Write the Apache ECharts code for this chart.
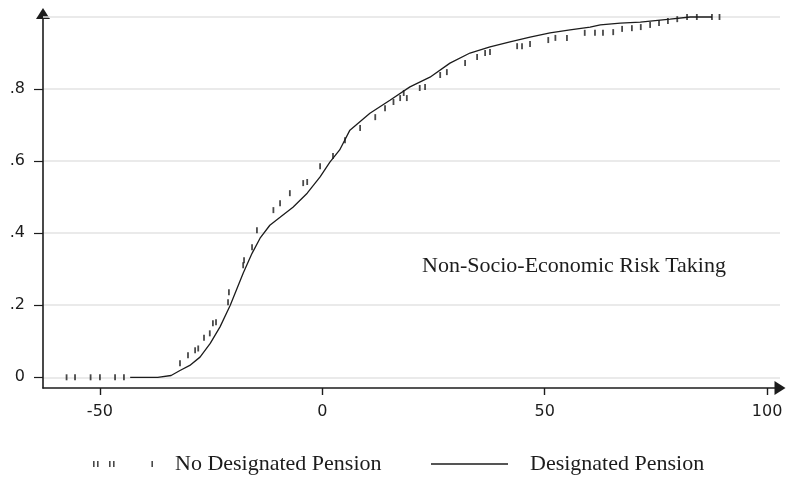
<!DOCTYPE html>
<html>
<head>
<meta charset="utf-8">
<script src="https://cdn.jsdelivr.net/npm/echarts@6/dist/echarts.min.js"></script>
<style>
  html, body { margin: 0; padding: 0; background: #fff; }
  #chart { width: 787px; height: 478px; }
</style>
</head>
<body>
<div id="chart"></div>
<script>
// Empirical CDFs of non-socio-economic risk taking, by pension status
const seriesNames = ['No Designated Pension', 'Designated Pension'];

// No designated pension: observed CDF marks
const noPensionX = [-57.5, -55.6, -52.1, -50, -46.6, -44.6,
  -32, -30.2, -28.6, -27.9, -26.6, -25.3, -24.6, -23.9, -21.2, -21,
  -17.8, -17.6, -15.8, -14.7, -11, -9.5, -7.3, -4.3, -3.4, -0.5, 2.4,
  5.1, 8.5, 11.9, 14.1, 16, 17.5, 18.3, 19, 21.9, 23.1, 26.5, 28, 32.1,
  34.8, 36.6, 37.7, 43.8, 44.9, 46.7, 50.8, 52.4, 55, 59, 61.3, 63.1,
  65.4, 67.4, 69.6, 71.6, 73.7, 75.7, 77.7, 79.8, 82, 84.2, 87.6, 89.3];
const noPensionY = [0, 0, 0, 0, 0, 0,
  0.039, 0.061, 0.075, 0.08, 0.11, 0.122, 0.15, 0.153, 0.208, 0.236,
  0.311, 0.325, 0.361, 0.408, 0.464, 0.483, 0.511, 0.539, 0.542, 0.586, 0.614,
  0.658, 0.692, 0.722, 0.747, 0.764, 0.775, 0.789, 0.775, 0.803, 0.806, 0.839, 0.847, 0.872,
  0.889, 0.9, 0.903, 0.919, 0.919, 0.925, 0.936, 0.942, 0.942, 0.956, 0.956, 0.956,
  0.958, 0.967, 0.969, 0.972, 0.978, 0.983, 0.989, 0.994, 1.0, 1.0, 1.0, 1.0];

// Designated pension: CDF curve
const pensionX = [-43.2, -37, -34, -32, -29.8, -27.5, -25.2, -23, -20.7, -17.8,
  -15.8, -14, -11.8, -9.5, -6.6, -3.4, -0.5, 1.7, 3.9, 6.2, 10.7, 15.2, 19.7,
  24.2, 28.7, 33.2, 37.7, 42.2, 46.7, 51.2, 55.7, 60.2, 62.5, 67, 71.5, 78.2, 82.7, 87.6];
const pensionY = [0, 0, 0.005, 0.019, 0.033, 0.056, 0.094, 0.14, 0.2, 0.289,
  0.344, 0.386, 0.422, 0.444, 0.472, 0.511, 0.556, 0.597, 0.631, 0.686, 0.733, 0.769, 0.806,
  0.833, 0.872, 0.9, 0.917, 0.931, 0.944, 0.956, 0.964, 0.972, 0.978, 0.983, 0.986, 0.994, 1.0, 1.0];

const xTickValues = [-50, 0, 50, 100];
const yTickValues = [0, 0.2, 0.4, 0.6, 0.8];
const yTopGrid = 1.0;
const annotationText = 'Non-Socio-Economic Risk Taking';

const ink = '#1c1c1c';
const serif = '"Liberation Serif", "Times New Roman", serif';
const sans = '"DejaVu Sans", Verdana, sans-serif';
const gridColor = '#e3e3e3';

const zip = (xs, ys) => xs.map((x, i) => [x, ys[i]]);

const chart = echarts.init(document.getElementById('chart'), null, { renderer: 'canvas' });

chart.setOption({
  animation: false,
  backgroundColor: '#fff',
  grid: { left: 43, right: 7, top: 13.5, bottom: 90, containLabel: false },
  xAxis: {
    type: 'value',
    min: -62.8,
    max: 102.9,
    axisLine: {
      show: true,
      onZero: false,
      lineStyle: { color: ink, width: 1.6 },
      symbol: ['none', 'triangle'],
      symbolSize: [14, 11]
    },
    axisTick: { show: true, inside: false, length: 7, lineStyle: { color: ink, width: 1.4 }, customValues: xTickValues },
    axisLabel: {
      customValues: xTickValues,
      margin: 16,
      color: ink,
      fontFamily: sans,
      fontSize: 16
    },
    splitLine: { show: false }
  },
  yAxis: {
    type: 'value',
    min: -0.0297,
    max: 1.0097,
    axisLine: {
      show: true,
      onZero: false,
      lineStyle: { color: ink, width: 1.6 },
      symbol: ['none', 'triangle'],
      symbolSize: [14, 11]
    },
    axisTick: { show: true, inside: false, length: 9, lineStyle: { color: ink, width: 1.2 }, customValues: yTickValues },
    axisLabel: {
      customValues: yTickValues,
      margin: 18,
      color: ink,
      fontFamily: sans,
      fontSize: 16,
      formatter: v => (v === 0 ? '0' : String(+v.toFixed(1)).replace(/^0/, ''))
    },
    splitLine: { show: true, lineStyle: { color: gridColor, width: 1.5 } }
  },
  legend: [
    {
      data: [{
        name: seriesNames[0],
        icon: 'path://M0,0h1.6v6h-1.6z M4,0h1.6v6h-1.6z M16,0h1.6v6h-1.6z M20,0h1.6v6h-1.6z M58.4,0h1.6v6h-1.6z'
      }],
      left: 93,
      top: 453,
      padding: 0,
      itemWidth: 60,
      itemHeight: 6,
      selectedMode: false,
      textStyle: { fontFamily: serif, fontSize: 22, color: ink, padding: [0, 0, 0, 17] }
    },
    {
      data: [{ name: seriesNames[1], icon: 'path://M0,0h77v1.3h-77z' }],
      left: 431,
      top: 453,
      padding: 0,
      itemWidth: 77,
      itemHeight: 1.3,
      selectedMode: false,
      textStyle: { fontFamily: serif, fontSize: 22, color: ink, padding: [0, 0, 0, 17] }
    }
  ],
  graphic: [{
    type: 'text',
    left: 422,
    top: 255,
    style: { text: annotationText, font: '22px ' + serif, fill: ink }
  }],
  series: [
    {
      name: seriesNames[0],
      type: 'scatter',
      data: zip(noPensionX, noPensionY),
      symbol: 'rect',
      symbolSize: [1.8, 6],
      itemStyle: { color: ink },
      z: 3
    },
    {
      name: seriesNames[1],
      type: 'line',
      data: zip(pensionX, pensionY),
      showSymbol: false,
      symbol: 'none',
      lineStyle: { color: ink, width: 1.3 },
      itemStyle: { color: ink },
      z: 4,
      markLine: {
        silent: true,
        symbol: 'none',
        label: { show: false },
        lineStyle: { color: gridColor, width: 1.5, type: 'solid' },
        data: [{ yAxis: yTopGrid }],
        z: 1
      }
    }
  ]
});
</script>
</body>
</html>
